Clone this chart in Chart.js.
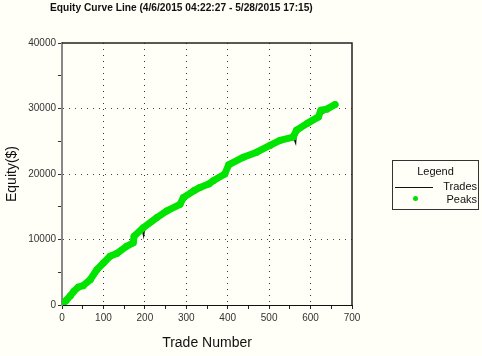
<!DOCTYPE html>
<html><head><meta charset="utf-8">
<script src="https://cdn.jsdelivr.net/npm/chart.js@4.4.1/dist/chart.umd.min.js"></script>
<style>
html,body{margin:0;padding:0;background:#fffff7;}
#wrap{position:relative;width:482px;height:356px;overflow:hidden;background:#fffff7;}
#c{position:absolute;left:0;top:0;}
#title{position:absolute;left:50px;top:2px;font:bold 10.2px "Liberation Sans",Arial,sans-serif;color:#111;white-space:nowrap;}
#legend{position:absolute;left:392px;top:160px;width:85px;height:48px;border:1px solid #333;font:11px "Liberation Sans",Arial,sans-serif;color:#111;}
#legend .t{position:absolute;left:0;right:0;top:4px;text-align:center;}
#legend .r{position:absolute;right:1px;text-align:right;}
#legend .ln{position:absolute;left:2px;width:38px;height:0;border-top:1px solid #111;}
#legend .dot{position:absolute;left:20px;width:5px;height:5px;border-radius:50%;background:#00e000;}
</style></head>
<body><div id="wrap">
<canvas id="c" width="482" height="356"></canvas>
<div id="title">Equity Curve Line (4/6/2015 04:22:27 - 5/28/2015 17:15)</div>
<div id="legend"><div class="t">Legend</div>
<div class="ln" style="top:26px"></div><div class="r" style="top:19px">Trades</div>
<div class="dot" style="top:35px"></div><div class="r" style="top:32px">Peaks</div></div>
</div>
<script>
const peakTrades = [0,10,20,28,39,51,68,84,100,116,132,156,172,174,196,229,253,285,293,318,333,354,365,393,402,438,470,502,526,558,566,591,619,625,639,659];
const peakEquity = [0,700,1400,2050,2720,2950,3850,5380,6410,7440,7850,8970,9490,10500,11800,13340,14360,15380,16400,17430,17950,18460,18970,20000,21380,22560,23330,24360,25130,25640,26670,27690,28720,29740,29900,30600];
const tradeTrades = [0,10,20,28,39,51,68,84,100,116,132,156,172,174,193,197,200,229,253,285,293,318,333,354,365,393,402,438,470,502,526,558,564,566,591,619,625,632,639,659];
const tradeEquity = [0,700,1400,2050,2720,2950,3850,5380,6410,7440,7850,8970,9490,10500,11700,10500,11900,13340,14360,15380,16400,17430,17950,18460,18970,20000,21380,22560,23330,24360,25130,25640,24700,26670,27690,28720,29740,29300,29900,30600];
const xTicks = [0,100,200,300,400,500,600,700];
const yTicks = [0,10000,20000,30000,40000];

const toXY = (xs, ys) => xs.map((x,i)=>({x:x, y:ys[i]}));
const FONT = '"Liberation Sans", Arial, sans-serif';

const frame = {
  id:'frame',
  afterDatasetsDraw(chart){
    const a = chart.chartArea, ctx = chart.ctx;
    ctx.save();
    ctx.strokeStyle = '#222'; ctx.lineWidth = 1.5;
    ctx.beginPath();
    ctx.moveTo(a.left, a.top); ctx.lineTo(a.right, a.top); ctx.lineTo(a.right, a.bottom);
    ctx.stroke();
    ctx.restore();
  }
};

new Chart(document.getElementById('c'), {
  type:'line',
  data:{datasets:[
    {label:'Trades', data:toXY(tradeTrades, tradeEquity), borderColor:'#111', borderWidth:1.2, pointRadius:0, tension:0, order:2},
    {label:'Peaks', data:toXY(peakTrades, peakEquity), borderColor:'#00e400', backgroundColor:'#00e400',
     borderWidth:7, pointRadius:3.5, pointBorderWidth:0, tension:0, borderCapStyle:'round', borderJoinStyle:'round', order:1}
  ]},
  options:{
    responsive:false, animation:false, devicePixelRatio:1,
    layout:{padding:{top:43, right:130, left:0, bottom:0}},
    plugins:{legend:{display:false}, title:{display:false}, tooltip:{enabled:false}},
    scales:{
      x:{type:'linear', min:0, max:700,
        afterFit(s){ s.height = 51; },
        ticks:{stepSize:50, autoSkip:false, maxRotation:0, color:'#333', font:{family:FONT, size:10}, padding:3,
          callback:(v)=> xTicks.includes(v) ? String(v) : ''},
        grid:{color:(c)=> (c.tick && c.tick.value%100===0 && c.tick.value>0 && c.tick.value<700) ? '#333' : 'rgba(0,0,0,0)',
          tickColor:'#222', tickLength:4, lineWidth:1},
        border:{color:'#111', width:1, dash:[1,5]},
        title:{display:true, text:'Trade Number', color:'#111', font:{family:FONT, size:14}, padding:{top:4}}
      },
      y:{type:'linear', min:0, max:40000,
        afterFit(s){ s.width = 62; },
        ticks:{stepSize:5000, autoSkip:false, color:'#333', font:{family:FONT, size:10}, padding:2,
          callback:(v)=> yTicks.includes(v) ? String(v) : ''},
        grid:{color:(c)=> (c.tick && c.tick.value%10000===0 && c.tick.value>0 && c.tick.value<40000) ? '#444' : 'rgba(0,0,0,0)',
          tickColor:'#333', tickLength:4, lineWidth:1},
        border:{color:'#888', width:2, dash:[1,5]},
        title:{display:true, text:'Equity($)', color:'#111', font:{family:FONT, size:14}, padding:{bottom:4}}
      }
    }
  },
  plugins:[frame]
});
</script></body></html>
